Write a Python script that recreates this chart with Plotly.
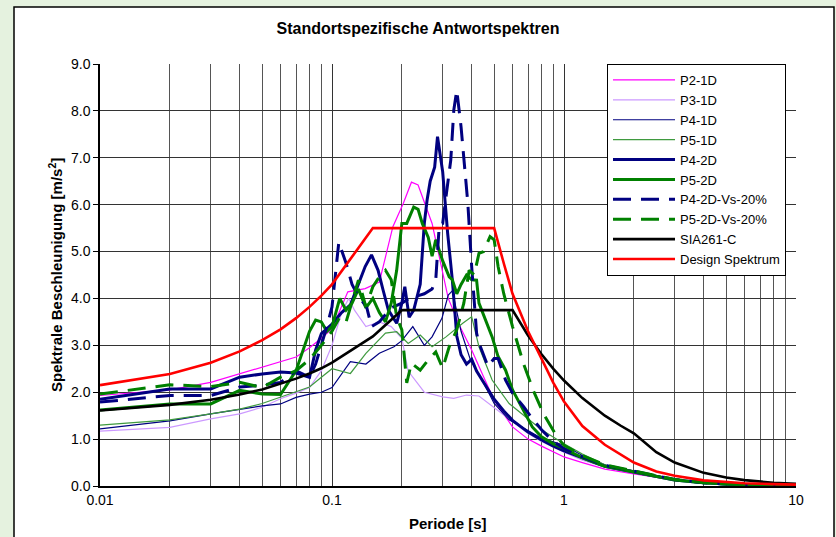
import plotly.graph_objects as go

# ---- response spectra: period [s] and spectral acceleration [m/s2] ----
t_p2_1d = [0.01, 0.02, 0.03, 0.04, 0.05, 0.06, 0.07, 0.08, 0.09, 0.1, 0.117, 0.139, 0.16, 0.183, 0.203,
           0.22, 0.235, 0.27, 0.298, 0.317, 0.356, 0.4, 0.45, 0.5, 0.6, 0.7, 0.8, 1.0, 1.2, 1.5, 2.0,
           2.5, 3.0, 4.0, 5.0, 7.0, 10.0]
a_p2_1d = [1.93, 2.05, 2.21, 2.39, 2.54, 2.66, 2.75, 2.95, 3.15, 3.35, 4.14, 4.21, 4.35, 5.53, 6.03,
           6.48, 6.42, 5.6, 4.6, 4.0, 3.4, 2.9, 2.33, 1.83, 1.26, 1.0, 0.85, 0.62, 0.5, 0.36, 0.26,
           0.18, 0.13, 0.07, 0.04, 0.02, 0.01]

t_p3_1d = [0.01, 0.02, 0.03, 0.04, 0.05, 0.06, 0.07, 0.08, 0.09, 0.1, 0.11, 0.118, 0.125, 0.14, 0.16,
           0.18, 0.2, 0.213, 0.25, 0.3, 0.335, 0.38, 0.43, 0.495, 0.59, 0.7, 0.8, 1.0, 1.2, 1.5, 2.0,
           2.5, 3.0, 4.0, 5.0, 7.0, 10.0]
a_p3_1d = [1.17, 1.25, 1.43, 1.54, 1.68, 1.86, 1.98, 2.1, 2.46, 3.0, 3.7, 4.0, 3.75, 3.4, 3.5,
           3.4, 3.15, 2.45, 2.0, 1.9, 1.87, 1.94, 1.92, 1.69, 1.4, 1.12, 0.95, 0.72, 0.55, 0.4, 0.28,
           0.19, 0.13, 0.07, 0.04, 0.02, 0.01]

t_p4_1d = [0.01, 0.02, 0.03, 0.04, 0.05, 0.06, 0.07, 0.08, 0.09, 0.1, 0.12, 0.14, 0.16, 0.185, 0.2,
           0.223, 0.25, 0.27, 0.298, 0.317, 0.33, 0.36, 0.395, 0.45, 0.5, 0.58, 0.69, 0.8, 1.0, 1.2,
           1.5, 2.0, 2.5, 3.0, 4.0, 5.0, 7.0, 10.0]
a_p4_1d = [1.22, 1.39, 1.54, 1.64, 1.71, 1.75, 1.89, 1.96, 2.0, 2.1, 2.65, 2.6, 2.83, 2.97, 3.1,
           3.4, 3.0, 3.18, 3.58, 4.07, 4.16, 3.3, 2.69, 2.2, 1.76, 1.41, 1.2, 1.02, 0.87, 0.65,
           0.45, 0.32, 0.21, 0.14, 0.07, 0.04, 0.02, 0.01]

t_p5_1d = [0.01, 0.02, 0.03, 0.04, 0.05, 0.06, 0.07, 0.08, 0.09, 0.1, 0.12, 0.14, 0.17, 0.19, 0.213,
           0.24, 0.27, 0.31, 0.366, 0.4, 0.43, 0.49, 0.58, 0.71, 0.8, 1.0, 1.2, 1.5, 2.0, 2.5, 3.0,
           4.0, 5.0, 7.0, 10.0]
a_p5_1d = [1.3, 1.41, 1.54, 1.64, 1.76, 1.89, 2.0, 2.11, 2.32, 2.5, 2.4, 2.83, 3.26, 3.29, 3.04,
           3.22, 2.97, 3.18, 3.47, 3.61, 2.97, 2.26, 1.76, 1.41, 1.2, 0.9, 0.68, 0.45, 0.32, 0.21, 0.14,
           0.07, 0.04, 0.02, 0.01]

t_p4_2d = [0.01, 0.02, 0.03, 0.04, 0.05, 0.06, 0.07, 0.08, 0.085, 0.09, 0.1, 0.11, 0.12, 0.13, 0.139,
           0.148, 0.158, 0.166, 0.175, 0.19, 0.2, 0.206, 0.215, 0.225, 0.24, 0.25, 0.257, 0.265, 0.277,
           0.285, 0.3, 0.315, 0.33, 0.345, 0.36, 0.38, 0.4, 0.42, 0.45, 0.5, 0.55, 0.6, 0.7, 0.8, 0.9,
           1.0, 1.2, 1.5, 2.0, 2.5, 3.0, 4.0, 5.0, 7.0, 10.0]
a_p4_2d = [1.85, 2.07, 2.07, 2.32, 2.39, 2.43, 2.41, 2.32, 2.9, 3.25, 3.45, 3.7, 3.86, 4.3, 4.68,
           4.93, 4.6, 4.18, 3.75, 3.47, 3.9, 4.25, 3.6, 3.75, 4.3, 5.6, 6.1, 6.5, 6.8,
           7.45, 6.7, 5.4, 4.4, 3.2, 2.8, 2.6, 2.7, 2.45, 2.2, 1.85, 1.6, 1.4, 1.15, 0.98, 0.85,
           0.75, 0.6, 0.42, 0.3, 0.2, 0.13, 0.07, 0.04, 0.02, 0.01]

t_p5_2d = [0.01, 0.02, 0.03, 0.04, 0.05, 0.06, 0.07, 0.075, 0.08, 0.085, 0.09, 0.095, 0.1, 0.108, 0.115,
           0.122, 0.13, 0.14, 0.15, 0.16, 0.17, 0.18, 0.19, 0.2, 0.21, 0.225, 0.235, 0.245, 0.26, 0.27,
           0.28, 0.3, 0.32, 0.33, 0.345, 0.36, 0.38, 0.4, 0.42, 0.43, 0.46, 0.49, 0.52, 0.56, 0.6,
           0.67, 0.73, 0.8, 0.9, 1.0, 1.2, 1.5, 2.0, 2.5, 3.0, 4.0, 5.0, 7.0, 10.0]
a_p5_2d = [1.62, 1.75, 1.75, 2.04, 1.96, 1.95, 2.46, 2.9, 3.3, 3.54, 3.5, 3.3, 3.4, 4.0, 3.75,
           3.9, 4.2, 3.8, 4.0, 3.7, 3.5, 3.9, 4.6, 5.6, 5.6, 5.95, 5.9, 5.6, 5.3, 4.9,
           5.25, 4.8, 4.46, 4.4, 4.1, 4.3, 4.5, 4.4, 4.39, 3.9, 3.54, 3.18, 2.76, 2.47, 2.05,
           1.62, 1.26, 1.05, 0.9, 0.8, 0.6, 0.42, 0.3, 0.2, 0.13, 0.07, 0.04, 0.02, 0.01]

t_p4_2d_vs = [0.01, 0.02, 0.03, 0.04, 0.05, 0.06, 0.07, 0.08, 0.085, 0.09, 0.095, 0.1, 0.107, 0.115,
              0.122, 0.13, 0.141, 0.148, 0.16, 0.18, 0.2, 0.215, 0.23, 0.25, 0.27, 0.28, 0.29, 0.3,
              0.31, 0.325, 0.335, 0.345, 0.36, 0.385, 0.4, 0.41, 0.42, 0.43, 0.45, 0.47, 0.5, 0.52,
              0.56, 0.6, 0.67, 0.72, 0.8, 0.9, 1.0, 1.2, 1.5, 2.0, 2.5, 3.0, 4.0, 5.0, 7.0, 10.0]
a_p4_2d_vs = [1.79, 1.93, 1.93, 2.11, 2.15, 2.21, 2.46, 2.32, 2.6, 3.0, 3.4, 3.82, 5.2, 4.75,
              4.3, 4.04, 3.82, 3.4, 3.5, 3.8, 3.9, 4.0, 4.04, 4.1, 4.2, 4.39, 5.57, 5.6,
              6.17, 6.95, 8.02, 8.44, 7.66, 6.03, 4.68, 3.9, 3.26, 3.05, 2.8, 2.55, 2.72, 2.72,
              2.26, 1.98, 1.69, 1.48, 1.2, 0.95, 0.8, 0.62, 0.44, 0.31, 0.21, 0.14, 0.07, 0.04, 0.02, 0.01]

t_p5_2d_vs = [0.01, 0.02, 0.03, 0.04, 0.05, 0.06, 0.07, 0.08, 0.09, 0.1, 0.108, 0.115, 0.13, 0.14,
              0.15, 0.16, 0.17, 0.18, 0.19, 0.2, 0.21, 0.22, 0.24, 0.26, 0.28, 0.3, 0.32, 0.345, 0.37,
              0.39, 0.41, 0.43, 0.45, 0.48, 0.5, 0.52, 0.55, 0.6, 0.67, 0.74, 0.82, 0.94, 1.0, 1.2,
              1.5, 2.0, 2.5, 3.0, 4.0, 5.0, 7.0, 10.0]
a_p5_2d_vs = [1.96, 2.16, 2.12, 2.21, 2.1, 2.32, 2.46, 2.7, 3.0, 3.3, 3.6, 3.5, 4.39, 3.82,
              4.25, 4.46, 4.6, 4.4, 3.6, 3.33, 2.2, 2.62, 2.47, 2.69, 2.86, 2.51, 2.97, 3.33, 3.9,
              4.6, 4.5, 4.96, 5.0, 5.32, 5.25, 4.68, 4.1, 3.4, 2.6, 2.02, 1.52, 1.02, 0.87, 0.65,
              0.45, 0.32, 0.22, 0.14, 0.07, 0.04, 0.02, 0.01]

t_sia = [0.01, 0.02, 0.03, 0.04, 0.05, 0.06, 0.07, 0.08, 0.09, 0.1, 0.15, 0.2, 0.6, 0.7, 0.8, 0.9,
         1.0, 1.2, 1.5, 1.75, 2.0, 2.5, 3.0, 4.0, 5.0, 6.0, 8.0, 10.0]
a_sia = [1.61, 1.73, 1.84, 1.95, 2.06, 2.18, 2.29, 2.40, 2.51, 2.63, 3.19, 3.75, 3.75, 3.21, 2.81, 2.50,
         2.25, 1.875, 1.50, 1.29, 1.125, 0.72, 0.50, 0.28, 0.18, 0.125, 0.07, 0.045]

t_design = [0.01, 0.02, 0.03, 0.04, 0.05, 0.06, 0.07, 0.08, 0.09, 0.1, 0.15, 0.5, 0.55, 0.6, 0.7, 0.8,
            0.9, 1.0, 1.2, 1.5, 2.0, 2.5, 3.0, 4.0, 5.0, 6.0, 8.0, 10.0]
a_design = [2.15, 2.39, 2.63, 2.87, 3.11, 3.34, 3.58, 3.82, 4.06, 4.30, 5.5, 5.5, 4.75, 4.1, 3.3, 2.7,
            2.2, 1.8, 1.28, 0.88, 0.5, 0.31, 0.22, 0.12, 0.08, 0.06, 0.04, 0.03]

series = [
    ("P2-1D", t_p2_1d, a_p2_1d, "#ff00ff", 1.2, "solid"),
    ("P3-1D", t_p3_1d, a_p3_1d, "#cc99ff", 1.2, "solid"),
    ("P4-1D", t_p4_1d, a_p4_1d, "#000080", 1.2, "solid"),
    ("P5-1D", t_p5_1d, a_p5_1d, "#3f9a3f", 1.2, "solid"),
    ("P4-2D", t_p4_2d, a_p4_2d, "#000080", 3, "solid"),
    ("P5-2D", t_p5_2d, a_p5_2d, "#008000", 3, "solid"),
    ("P4-2D-Vs-20%", t_p4_2d_vs, a_p4_2d_vs, "#000080", 3, "18px,10px"),
    ("P5-2D-Vs-20%", t_p5_2d_vs, a_p5_2d_vs, "#008000", 3, "18px,10px"),
    ("SIA261-C", t_sia, a_sia, "#000000", 2.6, "solid"),
    ("Design Spektrum", t_design, a_design, "#ff0000", 2.6, "solid"),
]

fig = go.Figure()
for name, t, a, color, width, dash in series:
    fig.add_trace(go.Scatter(x=t, y=a, name=name, mode="lines",
                             line=dict(color=color, width=width, dash=dash)))

FONT = "Liberation Sans, Arial, sans-serif"
W, H = 836, 537
L, R, T, B = 100, 40, 64, 51
pw, ph = W - L - R, H - T - B

fig.update_layout(
    width=W, height=H,
    margin=dict(l=L, r=R, t=T, b=B),
    paper_bgcolor="#e5f2df",
    plot_bgcolor="#ffffff",
    font=dict(family=FONT, size=14, color="#000000"),
    title=dict(text="<b>Standortspezifische Antwortspektren</b>", x=0.5, xanchor="center",
               y=1 - 28 / H, yanchor="middle", font=dict(size=16, family=FONT)),
    showlegend=True,
    legend=dict(x=(607 - L) / pw, y=1.0, xanchor="left", yanchor="top",
                bgcolor="#ffffff", bordercolor="#000000", borderwidth=1,
                font=dict(size=13, family=FONT), tracegroupgap=0, itemwidth=62),
    shapes=[dict(type="rect", xref="paper", yref="paper",
                 x0=(14 - L) / pw, x1=(834 - L) / pw,
                 y0=-0.2, y1=(T + ph - 7) / ph,
                 fillcolor="#ffffff", line=dict(color="#000000", width=1.5), layer="below")],
    annotations=[
        dict(text="<b>Periode [s]</b>", x=0.5, y=(T + ph - 523) / ph, xref="paper", yref="paper",
             showarrow=False, xanchor="center", yanchor="middle", font=dict(size=15, family=FONT)),
        dict(text="<b>Spektrale Beschleunigung [m/s<sup>2</sup>]</b>", x=(55 - L) / pw,
             y=(T + ph - 275) / ph, xref="paper", yref="paper", textangle=-90,
             showarrow=False, xanchor="center", yanchor="middle", font=dict(size=15, family=FONT)),
    ],
)

fig.update_xaxes(type="log", range=[-2, 1], tickvals=[0.01, 0.1, 1, 10],
                 ticktext=["0.01", "0.1", "1", "10"], tickfont=dict(size=14),
                 showgrid=True, gridcolor="#333333", gridwidth=1,
                 minor=dict(dtick="D1", showgrid=True, gridcolor="#555555", gridwidth=1),
                 showline=True, linecolor="#000000", linewidth=1.5, zeroline=False,
                 ticks="", mirror=False)
fig.update_yaxes(range=[0, 9], dtick=1, tickformat=".1f", tickfont=dict(size=14),
                 showgrid=True, gridcolor="#333333", gridwidth=1,
                 showline=True, linecolor="#000000", linewidth=1.5, zeroline=False,
                 ticks="outside", ticklen=5, tickcolor="#000000")

fig.write_html("out.html")
